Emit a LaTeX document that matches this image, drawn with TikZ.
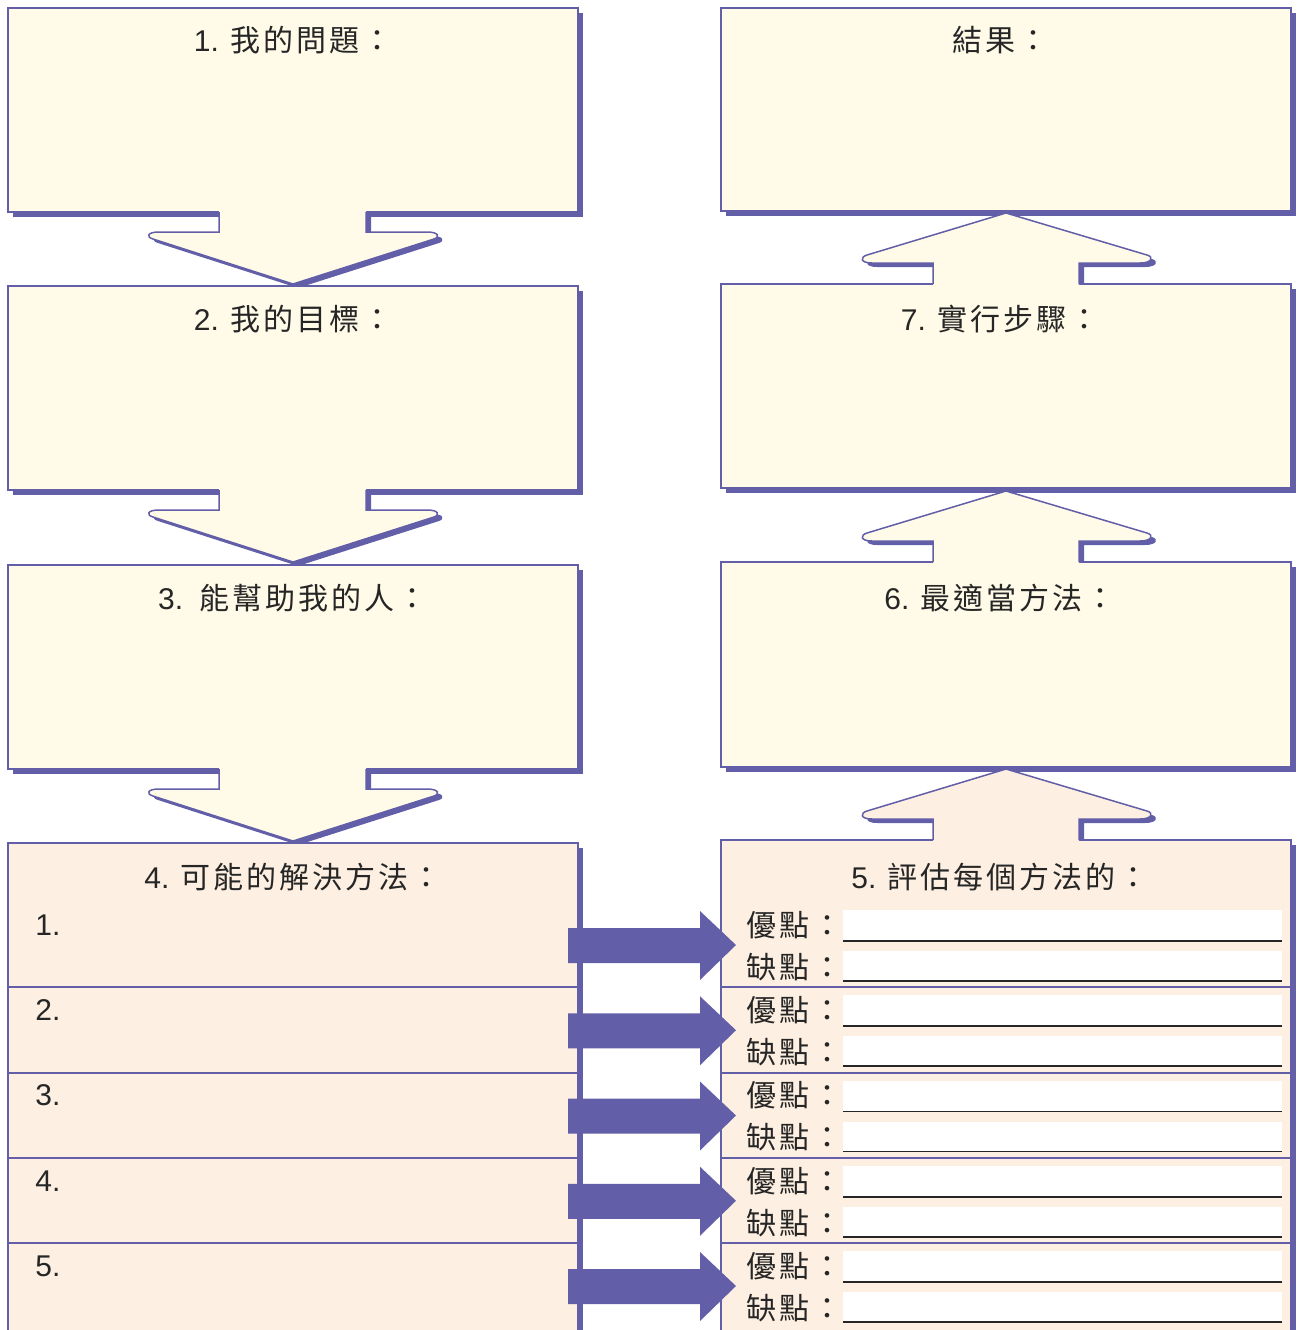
\documentclass[tikz,border=0pt]{standalone}
\usepackage{fontspec}
\setmainfont{Liberation Sans}
\newfontfamily\cjk[LetterSpace=10]{Noto Sans CJK TC}
\usetikzlibrary{shadows,calc}
\definecolor{pur}{RGB}{98,94,168}
\definecolor{cream}{RGB}{255,251,232}
\definecolor{peach}{RGB}{253,240,226}
\tikzset{
 pbox/.style={draw=pur, line width=0.75pt, anchor=north west, inner sep=0pt, outer sep=0pt,
   general shadow={fill=pur, shadow xshift=2.5pt, shadow yshift=-2.5pt}},
 hdtext/.style={inner sep=0pt, font=\fontsize{15pt}{18pt}\selectfont, text=black!85},
 lbl/.style={hdtext, anchor=west},
 field/.style={fill=white, draw=none},
 uline/.style={draw=black!85, line width=0.9pt},
 divider/.style={draw=pur, line width=1pt},
 outl/.style={draw=pur, line width=0.75pt},
}
% down arrow hanging from a box bottom
\newcommand\downarr[2]{%
 \begin{scope}[shift={(#1)}]
  \begin{scope}
   \clip (-200,0) rectangle (200,100);
   \fill[pur,shift={(5,4)}] (-74,-6) -- (-74,20) -- (-134,20) .. controls (-146,20) and (-147,25) .. (-140,27) -- (0,72) -- (141,27) .. controls (147,25) and (146,20) .. (134,20) -- (73,20) -- (73,-6) -- cycle;
  \end{scope}
  \fill[#2] (-74,-6) -- (-74,20) -- (-134,20) .. controls (-146,20) and (-147,25) .. (-140,27) -- (0,72) -- (141,27) .. controls (147,25) and (146,20) .. (134,20) -- (73,20) -- (73,-6) -- cycle;
  \draw[outl] (-74,0) -- (-74,20) -- (-134,20) .. controls (-146,20) and (-147,25) .. (-140,27) -- (0,72) -- (141,27) .. controls (147,25) and (146,20) .. (134,20) -- (73,20) -- (73,0);
 \end{scope}}
% up arrow rising from a box top
\newcommand\uparr[2]{%
 \begin{scope}[shift={(#1)}]
  \begin{scope}
   \clip (-200,0) rectangle (200,-100);
   \fill[pur,shift={(5,4)}] (-73,6) -- (-73,-21) -- (-134,-21) .. controls (-146,-21) and (-146,-27) .. (-139,-29) -- (0,-71) -- (141,-29) .. controls (148,-27) and (146,-21) .. (134,-21) -- (73,-21) -- (73,6) -- cycle;
  \end{scope}
  \fill[#2] (-73,6) -- (-73,-21) -- (-134,-21) .. controls (-146,-21) and (-146,-27) .. (-139,-29) -- (0,-71) -- (141,-29) .. controls (148,-27) and (146,-21) .. (134,-21) -- (73,-21) -- (73,6) -- cycle;
  \draw[outl] (-73,0) -- (-73,-21) -- (-134,-21) .. controls (-146,-21) and (-146,-27) .. (-139,-29) -- (0,-71) -- (141,-29) .. controls (148,-27) and (146,-21) .. (134,-21) -- (73,-21) -- (73,0);
 \end{scope}}
\begin{document}
\begin{tikzpicture}[x=0.5pt,y=-0.5pt]
\useasboundingbox (0,0) rectangle (1298,1330);
\clip (0,0) rectangle (1298,1330);
% left column
\node[pbox, fill=cream, minimum width=285pt, minimum height=102pt] (b1) at (8,8) {};
\downarr{b1.south}{cream}
\node[pbox, fill=cream, minimum width=285pt, minimum height=102pt] (b2) at (8,286) {};
\downarr{b2.south}{cream}
\node[pbox, fill=cream, minimum width=285pt, minimum height=102pt] (b3) at (8,565) {};
\downarr{b3.south}{cream}
\node[pbox, fill=peach, minimum width=285pt, minimum height=248.5pt] (b4) at (8,843) {};
% right column
\node[pbox, fill=cream, minimum width=285pt, minimum height=101.5pt] (r0) at (721,8) {};
\node[pbox, fill=cream, minimum width=285pt, minimum height=102pt] (b7) at (721,284) {};
\uparr{b7.north}{cream}
\node[pbox, fill=cream, minimum width=285pt, minimum height=102.5pt] (b6) at (721,562) {};
\uparr{b6.north}{cream}
\node[pbox, fill=peach, minimum width=285pt, minimum height=250pt] (b5) at (721,840) {};
\uparr{b5.north}{peach}
% headers
\node[hdtext] (h1) at (293,40) {1. {\cjk 我的問題：}};
\node[hdtext] (h2) at (293,319) {2. {\cjk 我的目標：}};
\node[hdtext] (h3) at (293,598) {3.\ \ {\cjk 能幫助我的人：}};
\node[hdtext] (h4) at (293,877) {4. {\cjk 可能的解決方法：}};
\node[hdtext] (hr) at (1000,40) {{\cjk 結果：}};
\node[hdtext] (h7) at (1000,319) {7. {\cjk 實行步驟：}};
\node[hdtext] (h6) at (1000,598) {6. {\cjk 最適當方法：}};
\node[hdtext] (h5) at (1000,877) {5. {\cjk 評估每個方法的：}};
% rows
\foreach \k in {0,...,4}{
  \pgfmathsetmacro\t{902+85.25*\k}
  \pgfmathtruncatemacro\n{\k+1}
  \ifnum\k>0
    \draw[divider] (8,\t) -- (578,\t);
    \draw[divider] (721,\t) -- (1291,\t);
  \fi
  \node[lbl] (n\n) at (35,\t+23) {\n.};
  \node[lbl] (p\n) at (746,\t+23) {\cjk 優點：};
  \node[lbl] (c\n) at (746,\t+65) {\cjk 缺點：};
  \fill[field] (843,\t+8) rectangle (1282,\t+39);
  \fill[field] (843,\t+49) rectangle (1282,\t+79);
  \draw[uline] (843,\t+39) -- (1282,\t+39);
  \draw[uline] (843,\t+79) -- (1282,\t+79);
  \fill[pur] (568,\t+26) -- (700,\t+26) -- (700,\t+9) -- (736,\t+43) -- (700,\t+78) -- (700,\t+61) -- (568,\t+61) -- cycle;
}
\end{tikzpicture}
\end{document}
